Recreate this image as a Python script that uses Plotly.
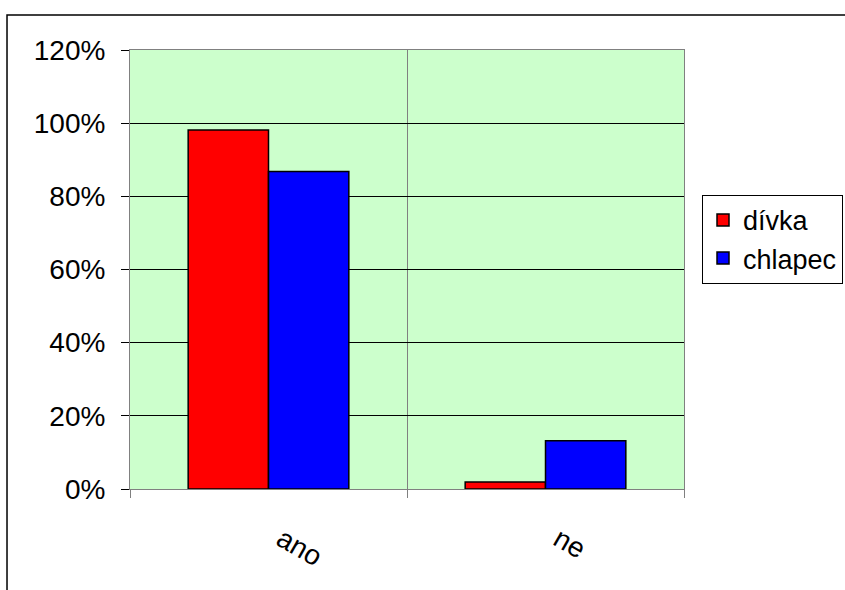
import plotly.graph_objects as go

categories = ["ano", "ne"]
divka = [98.1, 1.9]
chlapec = [86.8, 13.2]
y_ticks = [0, 20, 40, 60, 80, 100, 120]
y_labels = [f"{v}%" for v in y_ticks]

FONT = "Liberation Sans, Arial, sans-serif"

fig = go.Figure()
fig.add_trace(go.Bar(name="dívka", x=categories, y=divka,
                     marker=dict(color="#FF0000", line=dict(color="black", width=1.5))))
fig.add_trace(go.Bar(name="chlapec", x=categories, y=chlapec,
                     marker=dict(color="#0000FF", line=dict(color="black", width=1.5))))

fig.update_layout(
    width=845, height=590,
    margin=dict(l=130, r=161, t=50, b=101, autoexpand=False),
    paper_bgcolor="white",
    plot_bgcolor="#CCFFCC",
    barmode="group",
    bargap=0.42,
    bargroupgap=0,
    font=dict(family=FONT, size=28, color="black"),
    showlegend=True,
    legend=dict(x=1.0325, y=0.67, xanchor="left", yanchor="top",
                bordercolor="black", borderwidth=1, bgcolor="white",
                font=dict(size=27), itemwidth=30, tracegroupgap=0),
    xaxis=dict(type="category", showgrid=True, gridcolor="#808080", gridwidth=1,
               ticks="outside", tickson="boundaries", ticklen=8, tickcolor="#808080",
               tickangle=30, showline=True, linecolor="#808080", mirror=True,
               ticklabelstandoff=22, ticklabelshift=13, tickfont=dict(size=28)),
    yaxis=dict(range=[0, 120], tickvals=y_ticks, ticktext=y_labels,
               showgrid=True, gridcolor="black", gridwidth=1,
               ticks="outside", ticklen=8, tickcolor="black",
               showline=True, linecolor="#808080", mirror=True, zeroline=False,
               ticklabelstandoff=10, tickfont=dict(size=28)),
)

# outer chart frame
fig.add_shape(type="rect", xref="paper", yref="paper",
              x0=-0.222, x1=1.5, y0=-0.6, y1=1.0797,
              line=dict(color="black", width=1.5), fillcolor="rgba(0,0,0,0)", layer="below")

fig.write_html("out.html")
